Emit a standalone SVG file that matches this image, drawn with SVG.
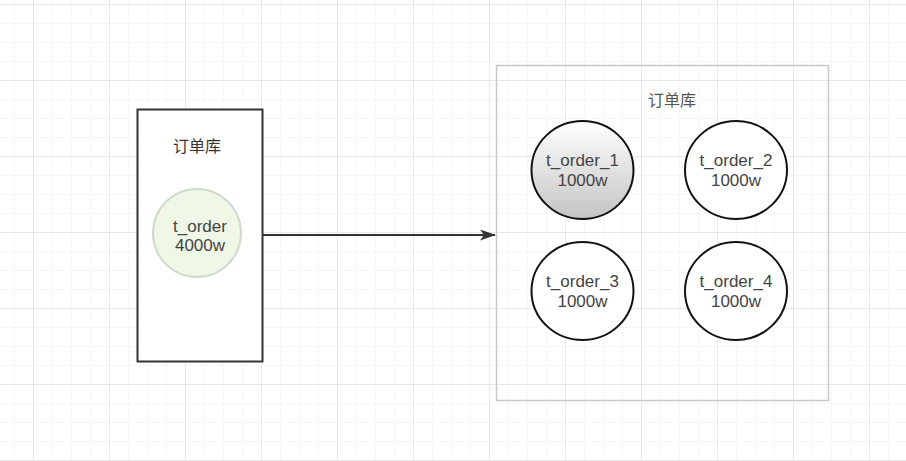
<svg xmlns="http://www.w3.org/2000/svg" width="906" height="461" viewBox="0 0 906 461">
<defs>
<pattern id="grid" x="14" y="4" width="19" height="19" patternUnits="userSpaceOnUse">
<path d="M0 0V19M0 0H19" fill="none" stroke="#ededed" stroke-width="1"/>
</pattern>
<pattern id="gridMajor" x="33" y="4" width="76" height="76" patternUnits="userSpaceOnUse">
<path d="M0 0V76M0 0H76" fill="none" stroke="#e4e4e4" stroke-width="1.5"/>
</pattern>
<linearGradient id="g1" x1="0" y1="0" x2="0" y2="1">
<stop offset="0" stop-color="#ffffff"/>
<stop offset="1" stop-color="#c4c4c4"/>
</linearGradient>
<marker id="arr" markerWidth="16" markerHeight="11" refX="15" refY="5.5" orient="auto" markerUnits="userSpaceOnUse">
<path d="M0 0L16 5.5L0 11L4 5.5Z" fill="#333"/>
</marker>
<style>
text{font-family:"Liberation Sans","Noto Sans CJK SC",sans-serif;font-size:17px;fill:#444;text-anchor:middle}
.title{fill:#333;font-size:16px}
.shard{fill:#fff;stroke:#111;stroke-width:2}
</style>
</defs>
<rect width="906" height="461" fill="#fff"/>
<rect width="906" height="461" fill="url(#grid)"/>
<rect width="906" height="461" fill="url(#gridMajor)"/>
<g id="left-db">
<rect x="137.5" y="109.5" width="125" height="252" fill="#fff" stroke="#333" stroke-width="2"/>
<text class="title" x="197" y="152">订单库</text>
</g>
<g id="t_order">
<circle cx="197" cy="233" r="44" fill="#eff7e6" stroke="#d2d9cc" stroke-width="2"/>
<text x="200" y="232">t_order</text>
<text x="200" y="251">4000w</text>
</g>
<g id="right-db">
<rect x="496.5" y="65.5" width="332" height="335" fill="none" stroke="#c8c8c8" stroke-width="1.5"/>
<text class="title" x="672" y="106" style="fill:#555">订单库</text>
</g>
<g id="t_order_1">
<ellipse cx="582.5" cy="170" rx="51" ry="49" fill="url(#g1)" stroke="#111" stroke-width="2"/>
<text x="582.5" y="166">t_order_1</text>
<text x="582.5" y="186">1000w</text>
</g>
<g id="t_order_2">
<ellipse class="shard" cx="736" cy="170" rx="51" ry="49"/>
<text x="736" y="166">t_order_2</text>
<text x="736" y="186">1000w</text>
</g>
<g id="t_order_3">
<ellipse class="shard" cx="582.5" cy="291" rx="51" ry="49"/>
<text x="582.5" y="287">t_order_3</text>
<text x="582.5" y="307">1000w</text>
</g>
<g id="t_order_4">
<ellipse class="shard" cx="736" cy="291" rx="51" ry="49"/>
<text x="736" y="287">t_order_4</text>
<text x="736" y="307">1000w</text>
</g>
<g id="connectors">
<line x1="263" y1="235" x2="495" y2="235" stroke="#333" stroke-width="2" marker-end="url(#arr)"/>
</g>
</svg>
